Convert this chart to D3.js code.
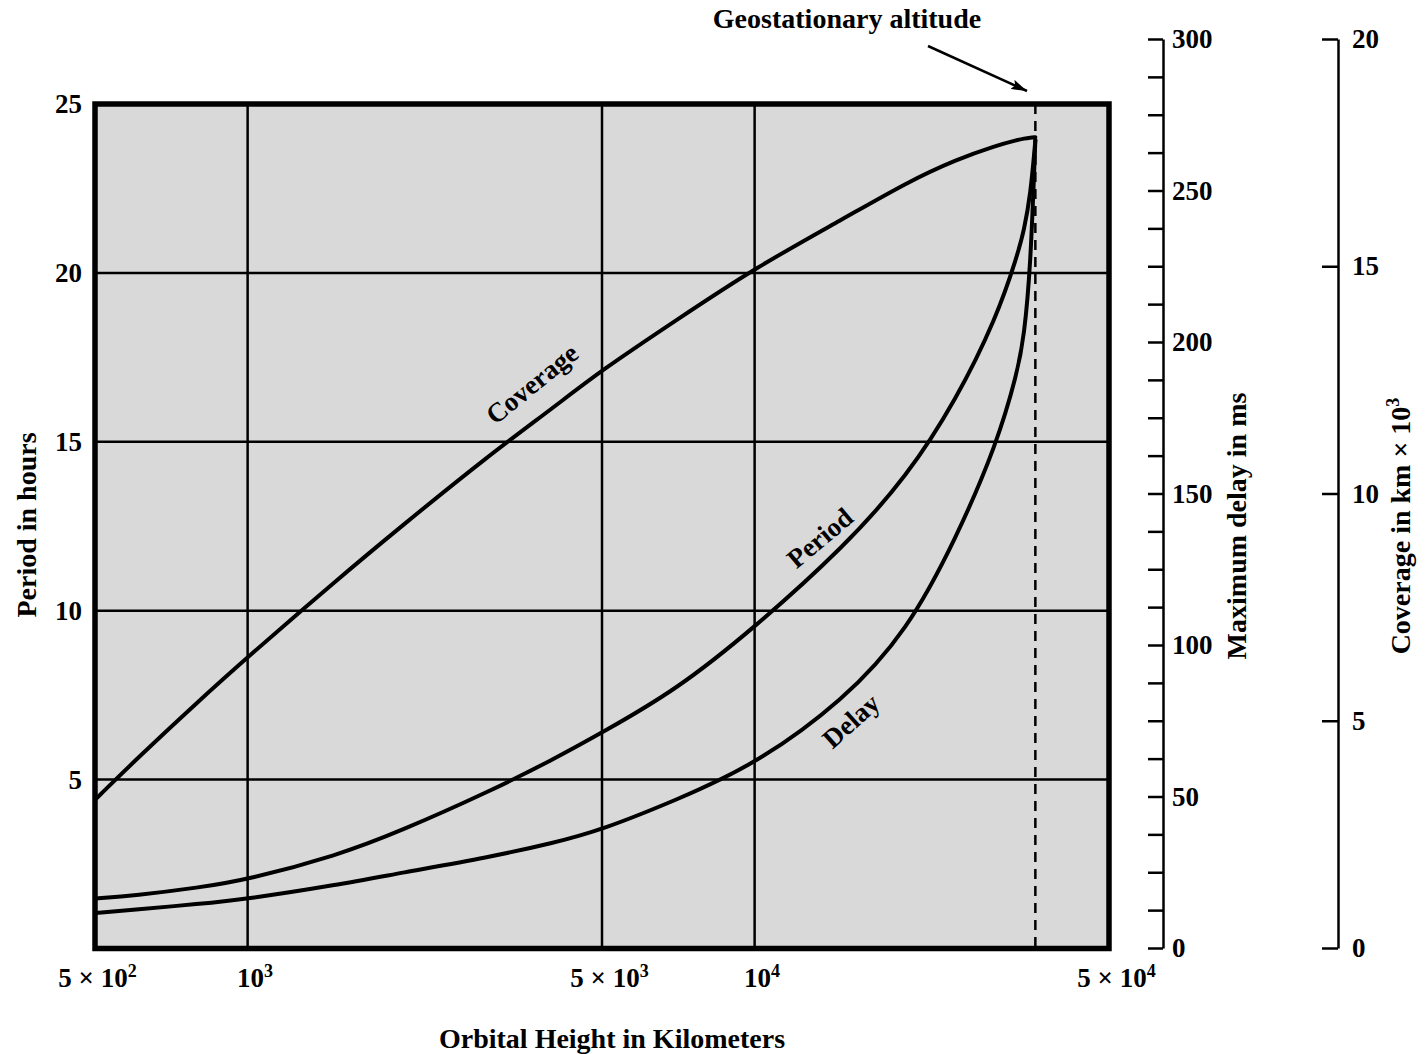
<!DOCTYPE html>
<html>
<head>
<meta charset="utf-8">
<script src="https://cdn.jsdelivr.net/npm/d3@7"></script>
<style>
  body { margin: 0; background: #fff; }
  text { font-family: "Liberation Serif", "Times New Roman", serif; font-weight: bold; fill: #000; }
</style>
</head>
<body>
<div id="chart"></div>
<script>

var heightsKm = [500, 600, 800, 1000, 1500, 2000, 3000, 4000, 5000, 7000, 10000,
  15000, 20000, 25000, 30000, 33000, 34000, 35000, 35786];

// coverage in km x 10^3
var coverageK = [3.26, 4.13, 5.43, 6.40, 8.10, 9.26, 10.85, 11.88, 12.72, 13.81, 14.96,
  16.05, 16.85, 17.35, 17.66, 17.78, 17.81, 17.83, 17.84];

// period in hours
var periodHrs = [1.48, 1.57, 1.80, 2.04, 2.75, 3.47, 4.65, 5.59, 6.39, 7.65, 9.50,
  11.88, 13.98, 16.25, 18.67, 20.53, 21.27, 22.3, 23.93];

// maximum delay in ms
var delayMs = [11.55, 12.7, 14.5, 16.2, 20.8, 24.75, 30.0, 34.6, 39.0, 48.8, 60.4,
  81.8, 104.6, 135.3, 166, 190, 202, 224, 266.7];

var geoHeight = 35786;

// tick values and labels
var xTicks = [500, 1000, 5000, 10000, 50000];
var xTickBase = ["5 \u00d7 10", "10", "5 \u00d7 10", "10", "5 \u00d7 10"];
var xTickExp = ["2", "3", "3", "4", "4"];
var xGrid = [1000, 5000, 10000];
var periodTicks = [5, 10, 15, 20, 25];
var periodGrid = [5, 10, 15, 20];
var delayTicks = d3.range(0, 300.01, 12.5);
var delayLabels = [0, 50, 100, 150, 200, 250, 300];
var coverageTicks = [0, 5, 10, 15, 20];

var svgWidth = 1427;
var svgHeight = 1054;

// plot frame
var plot = { left: 95, right: 1109, top: 104, bottom: 948.5 };

var svg = d3.select("#chart")
  .append("svg")
  .attr("width", svgWidth)
  .attr("height", svgHeight);

// scales
var xScale = d3.scaleLog()
  .domain([500, 50000])
  .range([plot.left, plot.right]);

var periodScale = d3.scaleLinear()
  .domain([0, 25])
  .range([plot.bottom, plot.top]);

var delayScale = d3.scaleLinear()
  .domain([0, 300])
  .range([948, 39]);

var coverageScale = d3.scaleLinear()
  .domain([0, 20])
  .range([948, 39]);

// grey background
svg.append("rect")
  .attr("x", plot.left)
  .attr("y", plot.top)
  .attr("width", plot.right - plot.left)
  .attr("height", plot.bottom - plot.top)
  .attr("fill", "#d9d9d9");

// grid lines
svg.append("g").selectAll("line")
  .data(xGrid)
  .enter()
  .append("line")
  .attr("x1", d => xScale(d))
  .attr("x2", d => xScale(d))
  .attr("y1", plot.top)
  .attr("y2", plot.bottom)
  .attr("stroke", "#000")
  .attr("stroke-width", 2.5);

svg.append("g").selectAll("line")
  .data(periodGrid)
  .enter()
  .append("line")
  .attr("x1", plot.left)
  .attr("x2", plot.right)
  .attr("y1", d => periodScale(d))
  .attr("y2", d => periodScale(d))
  .attr("stroke", "#000")
  .attr("stroke-width", 2.5);

// geostationary dashed line
svg.append("line")
  .attr("x1", xScale(geoHeight))
  .attr("x2", xScale(geoHeight))
  .attr("y1", plot.top)
  .attr("y2", plot.bottom)
  .attr("stroke", "#000")
  .attr("stroke-width", 2.5)
  .attr("stroke-dasharray", "10,7");

// curves
function drawCurve(values, yScale) {
  var line = d3.line()
    .x((d, i) => xScale(heightsKm[i]))
    .y(d => yScale(d))
    .curve(d3.curveBasis);
  svg.append("path")
    .datum(values)
    .attr("d", line)
    .attr("fill", "none")
    .attr("stroke", "#000")
    .attr("stroke-width", 4)
    .attr("stroke-linejoin", "round")
    .attr("stroke-linecap", "round");
}
drawCurve(coverageK, coverageScale);
drawCurve(periodHrs, periodScale);
drawCurve(delayMs, delayScale);

// frame on top
svg.append("rect")
  .attr("x", plot.left)
  .attr("y", plot.top)
  .attr("width", plot.right - plot.left)
  .attr("height", plot.bottom - plot.top)
  .attr("fill", "none")
  .attr("stroke", "#000")
  .attr("stroke-width", 5.5);

// curve labels
function curveLabel(txt, x, y, angle) {
  svg.append("text")
    .attr("transform", `translate(${x}, ${y}) rotate(${angle})`)
    .attr("text-anchor", "middle")
    .attr("dominant-baseline", "central")
    .attr("font-size", "27px")
    .text(txt);
}
curveLabel("Coverage", 532, 384, -39);
curveLabel("Period", 820, 538, -40);
curveLabel("Delay", 851, 721, -42);

// left axis (labels only)
var leftAxis = d3.axisLeft(periodScale)
  .tickValues(periodTicks)
  .tickSize(0)
  .tickPadding(13);
var leftG = svg.append("g")
  .attr("transform", `translate(${plot.left}, 0)`)
  .call(leftAxis);
leftG.select(".domain").remove();
leftG.selectAll("text")
  .attr("font-size", "27px")
  .attr("font-family", null);

// bottom axis with superscript labels
var bottomAxis = d3.axisBottom(xScale)
  .tickValues(xTicks)
  .tickSize(0)
  .tickPadding(19)
  .tickFormat(() => "");
var bottomG = svg.append("g")
  .attr("transform", `translate(0, ${plot.bottom})`)
  .call(bottomAxis);
bottomG.select(".domain").remove();
bottomG.selectAll(".tick text")
  .attr("font-size", "27px")
  .attr("font-family", null)
  .attr("x", (d, i) => i === 0 ? 2 : 7)
  .each(function(d, i) {
    var t = d3.select(this);
    t.append("tspan").text(xTickBase[i]);
    t.append("tspan").attr("dy", "-10").attr("font-size", "18px").text(xTickExp[i]);
  });

// delay axis
var delayAxis = d3.axisRight(delayScale)
  .tickValues(delayTicks)
  .tickSizeInner(-15)
  .tickSizeOuter(0)
  .tickPadding(9)
  .tickFormat(d => delayLabels.indexOf(d) >= 0 ? d : "");
var delayG = svg.append("g")
  .attr("transform", "translate(1163, 0)")
  .call(delayAxis);
delayG.selectAll("line, path").attr("stroke-width", 2.5);
delayG.selectAll("text")
  .attr("font-size", "27px")
  .attr("font-family", null);

// coverage axis
var coverageAxis = d3.axisRight(coverageScale)
  .tickValues(coverageTicks)
  .tickSizeInner(-16)
  .tickSizeOuter(0)
  .tickPadding(14);
var coverageG = svg.append("g")
  .attr("transform", "translate(1338, 0)")
  .call(coverageAxis);
coverageG.selectAll("line, path").attr("stroke-width", 2.5);
coverageG.selectAll("text")
  .attr("font-size", "27px")
  .attr("font-family", null);

// axis titles
svg.append("text")
  .attr("x", 612)
  .attr("y", 1048)
  .attr("text-anchor", "middle")
  .attr("font-size", "28px")
  .text("Orbital Height in Kilometers");

svg.append("text")
  .attr("transform", "translate(36, 525) rotate(-90)")
  .attr("text-anchor", "middle")
  .attr("font-size", "28px")
  .text("Period in hours");

svg.append("text")
  .attr("transform", "translate(1246, 526) rotate(-90)")
  .attr("text-anchor", "middle")
  .attr("font-size", "28px")
  .text("Maximum delay in ms");

var covTitle = svg.append("text")
  .attr("transform", "translate(1410, 526) rotate(-90)")
  .attr("text-anchor", "middle")
  .attr("font-size", "28px");
covTitle.append("tspan").text("Coverage in km \u00d7 10");
covTitle.append("tspan").attr("dy", "-11").attr("font-size", "18px").text("3");

// geostationary annotation
svg.append("text")
  .attr("x", 847)
  .attr("y", 28)
  .attr("text-anchor", "middle")
  .attr("font-size", "28px")
  .text("Geostationary altitude");

svg.append("defs").append("marker")
  .attr("id", "arrow")
  .attr("viewBox", "0 0 16 10")
  .attr("refX", 16)
  .attr("refY", 5)
  .attr("markerWidth", 16)
  .attr("markerHeight", 10)
  .attr("markerUnits", "userSpaceOnUse")
  .attr("orient", "auto")
  .append("path")
  .attr("d", "M0,0 L16,5 L0,10 L3,5 Z")
  .attr("fill", "#000");

svg.append("line")
  .attr("x1", 928)
  .attr("y1", 46)
  .attr("x2", 1027)
  .attr("y2", 91)
  .attr("stroke", "#000")
  .attr("stroke-width", 2.5)
  .attr("marker-end", "url(#arrow)");

</script>
</body>
</html>
